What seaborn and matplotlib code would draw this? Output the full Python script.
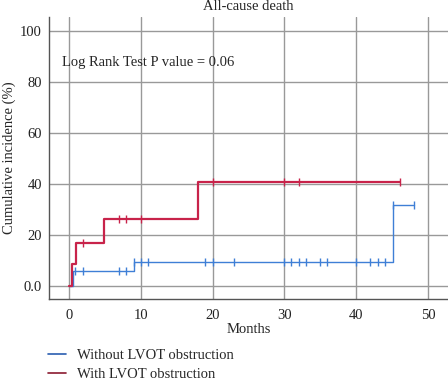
import matplotlib
matplotlib.use("Agg")
import matplotlib.pyplot as plt
import seaborn as sns
import pandas as pd
import numpy as np

sns.set_theme(style="white")
plt.rcParams['font.family'] = ['Liberation Serif', 'DejaVu Serif']

# Step data (event times in months, cumulative incidence in %)
without_times = [0, 0.5, 9.0, 45.1, 48]
without_values = [0, 5.8, 9.2, 31.8, 31.8]
without_censor = [0.9, 2.0, 7.0, 7.9, 9.0, 10.0, 11.0, 19.0, 20.0, 23.0, 30.0, 31.0,
                  32.0, 33.0, 35.0, 36.0, 40.0, 42.0, 43.0, 44.0, 45.1, 48.0]

with_times = [0, 0.4, 1.0, 4.9, 18.0, 46.1]
with_values = [0, 8.5, 16.7, 26.1, 40.7, 40.7]
with_censor = [2.0, 7.0, 7.9, 10.0, 20.0, 30.0, 32.0, 46.1]

labels = ["Without LVOT obstruction", "With LVOT obstruction"]
line_colors = ["#3f7fd6", "#c8234a"]
legend_colors = ["#2a5db0", "#8b1a30"]


def value_at(times, values, t):
    idx = np.searchsorted(times, t, side="right") - 1
    return values[max(idx, 0)]


fig = plt.figure(figsize=(4.48, 3.83), dpi=100)
ax = fig.add_axes([0.109, 0.219, 0.891, 0.737])

for times, values, cens, col, lw in [
    (without_times, without_values, without_censor, line_colors[0], 1.0),
    (with_times, with_values, with_censor, line_colors[1], 1.6),
]:
    df = pd.DataFrame({"t": times, "v": values})
    sns.lineplot(data=df, x="t", y="v", drawstyle="steps-post", color=col, lw=lw,
                 ax=ax, legend=False)
    cdf = pd.DataFrame({"t": cens, "v": [value_at(times, values, c) for c in cens]})
    sns.scatterplot(data=cdf, x="t", y="v", marker="|", s=40, color=col,
                    linewidth=1.0, ax=ax, legend=False, zorder=3)

ax.set_xlim(-2.8, 52.8)
ax.set_ylim(-5.2, 105.4)
ax.set_xticks([0, 10, 20, 30, 40, 50])
ax.set_yticks([0, 20, 40, 60, 80, 100])
ax.set_yticklabels(["0.0", "20", "40", "60", "80", "100"])
ax.grid(True, color="#999999", lw=1.0)
ax.set_axisbelow(True)
for s in ["top", "right"]:
    ax.spines[s].set_visible(False)
for s in ["left", "bottom"]:
    ax.spines[s].set_color("#555555")
    ax.spines[s].set_linewidth(1.0)
ax.tick_params(axis="x", labelsize=10.5, colors="#222222", length=0, pad=7)
ax.tick_params(axis="y", labelsize=10.5, colors="#222222", length=0, pad=5)
ax.set_xlabel("Months", fontsize=10.5, labelpad=1)
ax.set_ylabel("Cumulative incidence (%)", fontsize=10.5, labelpad=3)
ax.set_title("All-cause death", fontsize=10.5, pad=5)
ax.text(-1.0, 87.7, "Log Rank Test P value = 0.06", fontsize=10.5, va="center", ha="left")

from matplotlib.lines import Line2D
handles = [Line2D([0], [0], color=c, lw=1.2) for c in legend_colors]
fig.legend(handles, labels, loc="upper left", bbox_to_anchor=(0.094, 0.104), frameon=False,
           fontsize=10.5, handlelength=1.25, handletextpad=0.75, labelspacing=0.4,
           borderaxespad=0)

fig.savefig("out.png", dpi=100)
